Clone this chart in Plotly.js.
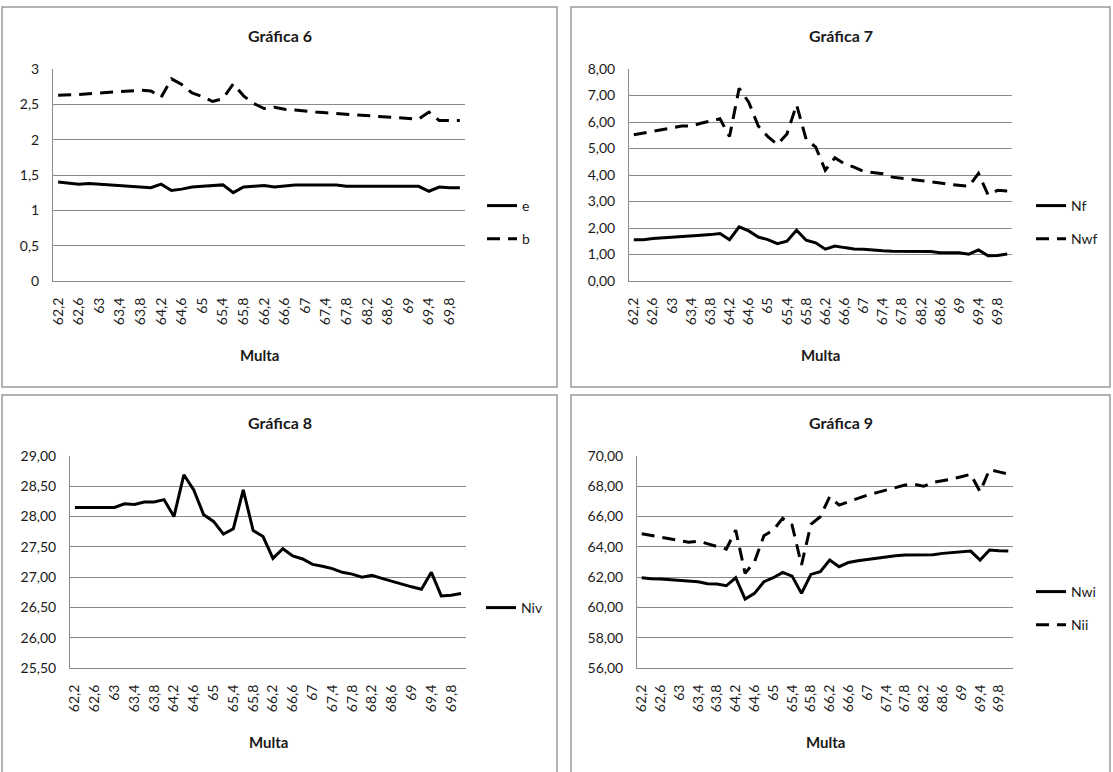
<!DOCTYPE html>
<html>
<head>
<meta charset="utf-8">
<script src="https://cdn.plot.ly/plotly-3.0.1.min.js"></script>
<style>html,body{margin:0;padding:0;background:#fff;}#chart{width:1113px;height:772px;}</style>
</head>
<body>
<div id="chart"></div>
<script>
// Categories (Multa)
const multa = ["62,2","62,4","62,6","62,8","63","63,2","63,4","63,6","63,8","64",
               "64,2","64,4","64,6","64,8","65","65,2","65,4","65,6","65,8","66",
               "66,2","66,4","66,6","66,8","67","67,2","67,4","67,6","67,8","68",
               "68,2","68,4","68,6","68,8","69","69,2","69,4","69,6","69,8","70"];

// Gráfica 6
const e = [1.40,1.39,1.37,1.38,1.37,1.35,1.35,1.34,1.33,1.32,
           1.37,1.28,1.30,1.33,1.34,1.35,1.36,1.25,1.33,1.34,
           1.35,1.33,1.35,1.36,1.36,1.36,1.36,1.36,1.34,1.34,
           1.34,1.34,1.34,1.34,1.34,1.34,1.27,1.33,1.32,1.32];
const b = [2.63,2.63,2.64,2.65,2.66,2.67,2.68,2.69,2.70,2.69,
           2.60,2.86,2.78,2.66,2.61,2.54,2.58,2.79,2.62,2.51,
           2.44,2.46,2.43,2.42,2.40,2.39,2.38,2.37,2.36,2.35,
           2.35,2.34,2.33,2.32,2.31,2.29,2.39,2.27,2.27,2.27];

// Gráfica 7
const Nf = [1.56,1.56,1.60,1.63,1.64,1.68,1.70,1.73,1.75,1.79,
            1.56,2.04,1.89,1.66,1.56,1.41,1.50,1.92,1.54,1.44,
            1.20,1.32,1.26,1.21,1.20,1.16,1.14,1.12,1.12,1.12,
            1.11,1.11,1.07,1.07,1.07,1.01,1.17,0.95,0.96,1.02];
const Nwf = [5.52,5.58,5.66,5.72,5.78,5.85,5.85,5.95,6.05,6.12,
             5.45,7.27,6.75,5.85,5.45,5.15,5.55,6.65,5.35,5.05,
             4.18,4.65,4.42,4.30,4.14,4.10,4.05,3.92,3.88,3.84,
             3.80,3.75,3.70,3.65,3.62,3.57,4.06,3.25,3.42,3.40];

// Gráfica 8
const Niv = [28.15,28.15,28.15,28.15,28.15,28.21,28.20,28.24,28.24,28.28,
             28.00,28.69,28.44,28.03,27.92,27.71,27.80,28.44,27.77,27.67,
             27.31,27.47,27.35,27.30,27.21,27.18,27.14,27.08,27.05,27.00,
             27.03,26.98,26.93,26.89,26.84,26.80,27.08,26.69,26.70,26.73];

// Gráfica 9
const Nwi = [61.96,61.89,61.87,61.83,61.78,61.74,61.70,61.56,61.54,61.43,
             61.96,60.55,60.93,61.70,61.96,62.31,62.07,60.93,62.18,62.36,
             63.13,62.69,62.97,63.08,63.17,63.24,63.33,63.41,63.46,63.46,
             63.46,63.48,63.57,63.63,63.68,63.72,63.13,63.79,63.75,63.73];
const Nii = [64.87,64.76,64.63,64.52,64.45,64.30,64.38,64.19,64.01,63.85,
             65.11,62.25,63.02,64.74,65.11,65.88,65.44,62.80,65.48,65.99,
             67.31,66.76,66.98,67.20,67.42,67.58,67.75,67.93,68.08,68.13,
             68.00,68.26,68.35,68.48,68.63,68.79,67.64,69.10,68.95,68.80];

const titles = ["Gráfica 6","Gráfica 7","Gráfica 8","Gráfica 9"];
const xTitle = "Multa";

const W = 1113, H = 772;
const px = v => v / W;
const py = v => 1 - v / H;

const FONT = "Lato, 'Open Sans', sans-serif";
const TXT = "#1a1a1a";
const GRID = "#8a8a8a";
const solid = {color: "#000", width: 3};
const dashed = {color: "#000", width: 3, dash: "13px,8px"};

function tr(y, name, line, xa, ya, leg, grp) {
  return {x: multa, y: y, name: name, type: "scatter", mode: "lines",
          line: line, xaxis: xa, yaxis: ya, legend: leg, legendgroup: grp,
          hoverinfo: "skip"};
}

const data = [
  tr(e, "e", solid, "x", "y", "legend", "a1"),
  tr(b, "b", dashed, "x", "y", "legend", "a2"),
  tr(Nf, "Nf", solid, "x2", "y2", "legend2", "b1"),
  tr(Nwf, "Nwf", dashed, "x2", "y2", "legend2", "b2"),
  tr(Niv, "Niv", solid, "x3", "y3", "legend3", "c1"),
  tr(Nwi, "Nwi", solid, "x4", "y4", "legend4", "d1"),
  tr(Nii, "Nii", dashed, "x4", "y4", "legend4", "d2")
];

function xax(x0, x1, anchor) {
  return {domain: [px(x0), px(x1)], anchor: anchor, type: "category",
          range: [-0.5, 39.5], dtick: 2, tick0: 0, tickangle: -90,
          showgrid: false, zeroline: false, showline: true, linecolor: GRID, linewidth: 1,
          ticks: "", ticklabelstandoff: 10, fixedrange: true,
          tickfont: {family: FONT, size: 14, color: TXT}};
}
function yax(y0, y1, anchor, rng, dt, fmt) {
  return {domain: [py(y1), py(y0)], anchor: anchor, range: rng, dtick: dt,
          tickformat: fmt, showgrid: true, gridcolor: GRID, gridwidth: 1,
          zeroline: false, showline: true, linecolor: GRID, linewidth: 1,
          ticks: "", ticklabelstandoff: 10, fixedrange: true,
          tickfont: {family: FONT, size: 14, color: TXT}};
}

function legendAt(x, yTop) {
  return {x: px(x), y: py(yTop), xref: "paper", yref: "paper",
          xanchor: "left", yanchor: "top", bgcolor: "rgba(0,0,0,0)",
          borderwidth: 0, tracegroupgap: 12, itemwidth: 30,
          font: {family: FONT, size: 14, color: TXT}};
}

function ann(text, x, y, size) {
  return {text: text, x: px(x), y: py(y), xref: "paper", yref: "paper",
          xanchor: "center", yanchor: "middle", showarrow: false,
          font: {family: FONT, size: size, color: TXT, weight: "bold"}};
}

function box(x0, x1, y0, y1) {
  return {type: "rect", xref: "paper", yref: "paper",
          x0: px(x0), x1: px(x1), y0: py(y1), y1: py(y0),
          line: {color: "#9a9a9a", width: 1.5}, fillcolor: "rgba(0,0,0,0)", layer: "below"};
}

const layout = {
  width: W, height: H,
  margin: {l: 0, r: 0, t: 0, b: 0},
  paper_bgcolor: "#fff", plot_bgcolor: "#fff",
  separators: ",.",
  font: {family: FONT, size: 14, color: TXT},
  showlegend: true,
  xaxis:  xax(53, 465, "y"),
  yaxis:  yax(69, 281, "x", [0, 3], 0.5, ""),
  xaxis2: xax(629, 1012, "y2"),
  yaxis2: yax(69, 281, "x2", [0, 8], 1, ".2f"),
  xaxis3: xax(70, 466, "y3"),
  yaxis3: yax(456, 668, "x3", [25.5, 29], 0.5, ".2f"),
  xaxis4: xax(637, 1013, "y4"),
  yaxis4: yax(456, 668, "x4", [56, 70], 2, ".2f"),
  legend:  legendAt(482, 190),
  legend2: legendAt(1031, 190),
  legend3: legendAt(481, 592),
  legend4: legendAt(1031, 576),
  annotations: [
    ann(titles[0], 280, 35, 16), ann(titles[1], 841, 35, 16),
    ann(titles[2], 280, 422, 16), ann(titles[3], 841, 422, 16),
    ann(xTitle, 259, 355, 15), ann(xTitle, 820, 355, 15),
    ann(xTitle, 268, 742, 15), ann(xTitle, 825, 742, 15)
  ],
  shapes: [
    box(2, 557, 7, 387), box(571, 1110, 7, 387),
    box(2, 557, 395, 790), box(571, 1110, 395, 790)
  ]
};

Plotly.newPlot("chart", data, layout, {displayModeBar: false, staticPlot: true});
</script>
</body>
</html>
